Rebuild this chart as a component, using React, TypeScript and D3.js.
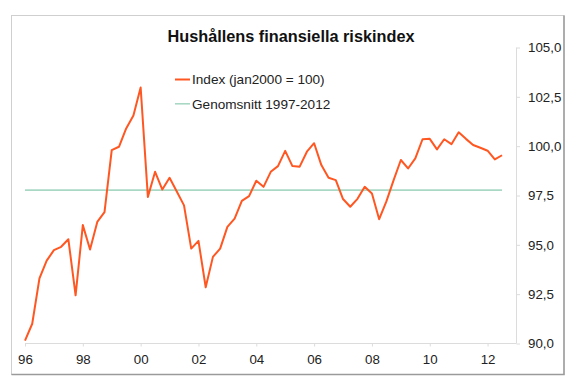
import React, { useRef, useEffect } from "react";
import * as d3 from "d3";

// quarterly index values, 1996Q1 - 2012Q3 (jan2000 = 100)
const indexValues = [
  90.15, 91.0, 93.3, 94.2,
  94.73, 94.9, 95.28, 92.44,
  96.0, 94.76, 96.16, 96.66,
  99.8, 99.97, 100.9, 101.55,
  102.97, 97.43, 98.7, 97.8,
  98.4, 97.7, 97.0, 94.81,
  95.2, 92.85, 94.39, 94.81,
  95.91, 96.33, 97.23, 97.47,
  98.25, 97.94, 98.7, 98.99,
  99.76, 98.99, 98.96, 99.72,
  100.15, 99.04, 98.4, 98.28,
  97.32, 96.93, 97.33, 97.94,
  97.6, 96.3, 97.2, 98.28,
  99.3, 98.87, 99.38, 100.35,
  100.37, 99.84, 100.35, 100.1,
  100.7, 100.37, 100.06, 99.92,
  99.77, 99.33, 99.54,
];
const startYear = 1996;
const averageValue = 97.77;
const xTickYears = [1996, 1998, 2000, 2002, 2004, 2006, 2008, 2010, 2012];
const yTicks = [90, 92.5, 95, 97.5, 100, 102.5, 105];
const legendLabels = ["Index (jan2000 = 100)", "Genomsnitt 1997-2012"];

const title = "Hushållens finansiella riskindex";
const orange = "#ff5722";
const green = "#a9d8c4";
const axisColor = "#dcdcdc";

const App = () => {
  const container = useRef(null);

  const width = 580;
  const height = 386;

  useEffect(() => {
    const svg = d3.select(container.current);
    svg.selectAll("*").remove();

    // frame
    svg
      .append("rect")
      .attr("x", 11.5)
      .attr("y", 15.5)
      .attr("width", 552.5)
      .attr("height", 359)
      .attr("fill", "#fff")
      .attr("stroke", "#cfcfcf");
    svg
      .append("path")
      .attr("d", "M564,15.5 V374.5 H11.5")
      .attr("fill", "none")
      .attr("stroke", "#9a9a9a")
      .attr("stroke-width", 1.5);

    const xScale = d3.scaleLinear().domain([1996, 2013]).range([25, 516.5]);
    const yScale = d3.scaleLinear().domain([90, 105]).range([343.5, 47.5]);

    // x axis
    const xAxis = svg
      .append("g")
      .attr("transform", "translate(0, 343.5)")
      .call(
        d3
          .axisBottom(xScale)
          .tickValues(xTickYears)
          .tickSize(3)
          .tickPadding(8)
          .tickFormat((d) => String(d).slice(2))
      );
    xAxis.select(".domain").attr("stroke", axisColor).attr("d", "M25,0H516.5");
    xAxis.selectAll("line").attr("stroke", axisColor);
    xAxis
      .selectAll("text")
      .attr("fill", "#222")
      .style("font-family", "Liberation Sans, Arial, sans-serif")
      .style("font-size", "13.3px");

    // right y axis
    const yAxis = svg
      .append("g")
      .attr("transform", "translate(516.5, 0)")
      .call(
        d3
          .axisRight(yScale)
          .tickValues(yTicks)
          .tickSize(3.5)
          .tickPadding(8)
          .tickFormat((d) => d3.format(".1f")(d).replace(".", ","))
      );
    yAxis.select(".domain").attr("stroke", axisColor).attr("d", `M0,${yScale(105)}V${yScale(90)}`);
    yAxis.selectAll("line").attr("stroke", axisColor);
    yAxis
      .selectAll("text")
      .attr("fill", "#222")
      .style("font-family", "Liberation Sans, Arial, sans-serif")
      .style("font-size", "13.3px");

    const lastYear = startYear + (indexValues.length - 1) / 4;

    // average line
    svg
      .append("line")
      .attr("x1", xScale(startYear))
      .attr("x2", xScale(lastYear))
      .attr("y1", yScale(averageValue))
      .attr("y2", yScale(averageValue))
      .attr("stroke", green)
      .attr("stroke-width", 1.6);

    // index line
    const line = d3
      .line()
      .x((d, i) => xScale(startYear + i / 4))
      .y((d) => yScale(d));

    svg
      .append("path")
      .datum(indexValues)
      .attr("d", line)
      .attr("fill", "none")
      .attr("stroke", orange)
      .attr("stroke-width", 2)
      .attr("stroke-linejoin", "round");

    // title
    svg
      .append("text")
      .attr("x", 291)
      .attr("y", 42)
      .attr("text-anchor", "middle")
      .style("font-family", "Liberation Sans, Arial, sans-serif")
      .style("font-size", "16.3px")
      .style("font-weight", "bold")
      .attr("fill", "#111")
      .text(title);

    // legend
    const legend = svg.append("g").attr("transform", "translate(175, 79.5)");
    legend
      .selectAll("line")
      .data(legendLabels)
      .enter()
      .append("line")
      .attr("x1", 0)
      .attr("x2", 15)
      .attr("y1", (d, i) => i * 24.3)
      .attr("y2", (d, i) => i * 24.3)
      .attr("stroke", (d, i) => (i === 0 ? orange : green))
      .attr("stroke-width", (d, i) => (i === 0 ? 2 : 1.6));
    legend
      .selectAll("text")
      .data(legendLabels)
      .enter()
      .append("text")
      .attr("x", 17)
      .attr("y", (d, i) => i * 24.3)
      .attr("dy", "0.35em")
      .attr("fill", "#222")
      .style("font-family", "Liberation Sans, Arial, sans-serif")
      .style("font-size", "13.6px")
      .text((d) => d);
  }, []);

  return (
    <div style={{ position: "absolute", left: 0, top: 0, width: width, height: height, background: "#fff" }}>
      <svg ref={container} width={width} height={height} style={{ display: "block" }} />
    </div>
  );
};

export default App;
